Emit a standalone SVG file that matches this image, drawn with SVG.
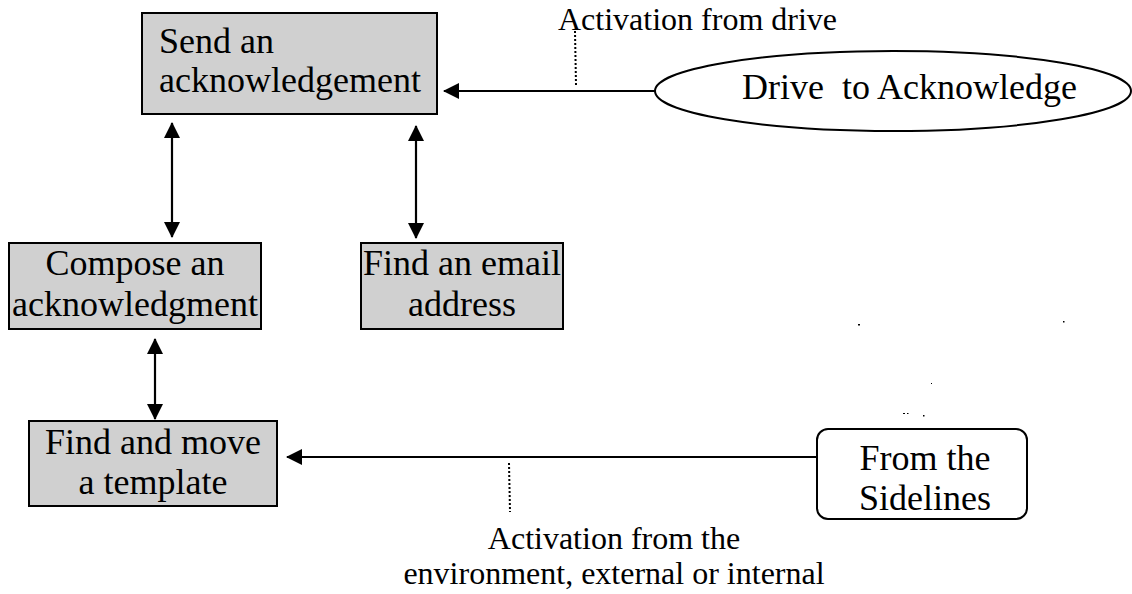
<svg xmlns="http://www.w3.org/2000/svg" width="1132" height="594" viewBox="0 0 1132 594">
  <style>
    text { font-family: "Liberation Serif", "Times New Roman", serif; fill: #000; }
    .node { font-size: 36px; }
    .label { font-size: 32px; }
    .box { fill: #d0d0d0; stroke: #000; stroke-width: 2; }
    .plain { fill: #fff; stroke: #000; stroke-width: 2; }
    .link { stroke: #000; stroke-width: 2.2; fill: none; }
    .dots { stroke: #000; stroke-width: 2; stroke-dasharray: 2 2; fill: none; }
  </style>
  <defs>
    <marker id="head" viewBox="0 0 16 16" refX="15" refY="8" markerWidth="16" markerHeight="16" markerUnits="userSpaceOnUse" orient="auto-start-reverse">
      <path d="M0,0 L16,8 L0,16 Z" fill="#000"/>
    </marker>
  </defs>

  <rect width="1132" height="594" fill="#fff"/>

  <!-- connectors -->
  <g id="connectors">
    <line class="link" x1="655" y1="91" x2="444" y2="91" marker-end="url(#head)"/>
    <line class="link" x1="172" y1="123" x2="172" y2="237" marker-start="url(#head)" marker-end="url(#head)"/>
    <line class="link" x1="416" y1="126" x2="416" y2="238" marker-start="url(#head)" marker-end="url(#head)"/>
    <line class="link" x1="155" y1="339" x2="155" y2="419" marker-start="url(#head)" marker-end="url(#head)"/>
    <line class="link" x1="816" y1="457" x2="287" y2="457" marker-end="url(#head)"/>
    <line class="dots" x1="575" y1="31" x2="576" y2="85"/>
    <line class="dots" x1="509" y1="463" x2="510" y2="512"/>
  </g>

  <g id="send">
    <rect class="box" x="142" y="13" width="295" height="101"/>
    <text class="node" x="159" y="53">Send an</text>
    <text class="node" x="159" y="92">acknowledgement</text>
  </g>

  <g id="drive">
    <ellipse class="plain" cx="893" cy="91" rx="238" ry="40"/>
    <text class="node" x="742" y="99" xml:space="preserve">Drive  to Acknowledge</text>
  </g>

  <g id="compose">
    <rect class="box" x="9" y="243" width="252" height="86"/>
    <text class="node" x="135" y="275" text-anchor="middle">Compose an</text>
    <text class="node" x="135" y="316" text-anchor="middle">acknowledgment</text>
  </g>

  <g id="email">
    <rect class="box" x="361" y="243" width="202" height="86"/>
    <text class="node" x="462" y="275" text-anchor="middle">Find an email</text>
    <text class="node" x="462" y="316" text-anchor="middle">address</text>
  </g>

  <g id="template">
    <rect class="box" x="29" y="421" width="248" height="85"/>
    <text class="node" x="153" y="454" text-anchor="middle">Find and move</text>
    <text class="node" x="153" y="494" text-anchor="middle">a template</text>
  </g>

  <g id="sidelines">
    <rect class="plain" x="817" y="429" width="210" height="90" rx="11" ry="11"/>
    <text class="node" x="925" y="470" text-anchor="middle">From the</text>
    <text class="node" x="925" y="510" text-anchor="middle">Sidelines</text>
  </g>

  <g id="labels">
    <text class="label" x="558" y="30">Activation from drive</text>
    <text class="label" x="614" y="549" text-anchor="middle">Activation from the</text>
    <text class="label" x="614" y="584" text-anchor="middle">environment, external or internal</text>
  </g>

  <!-- small stray marks -->
  <g id="specks" fill="#000">
    <rect x="858" y="324" width="2" height="1.5"/>
    <rect x="1063" y="321" width="1.5" height="1.5"/>
    <rect x="931" y="383" width="1" height="1"/>
    <rect x="903" y="413" width="2" height="1"/>
    <rect x="907" y="413" width="1.5" height="1"/>
    <rect x="923" y="415" width="1.5" height="1.5"/>
  </g>
</svg>
